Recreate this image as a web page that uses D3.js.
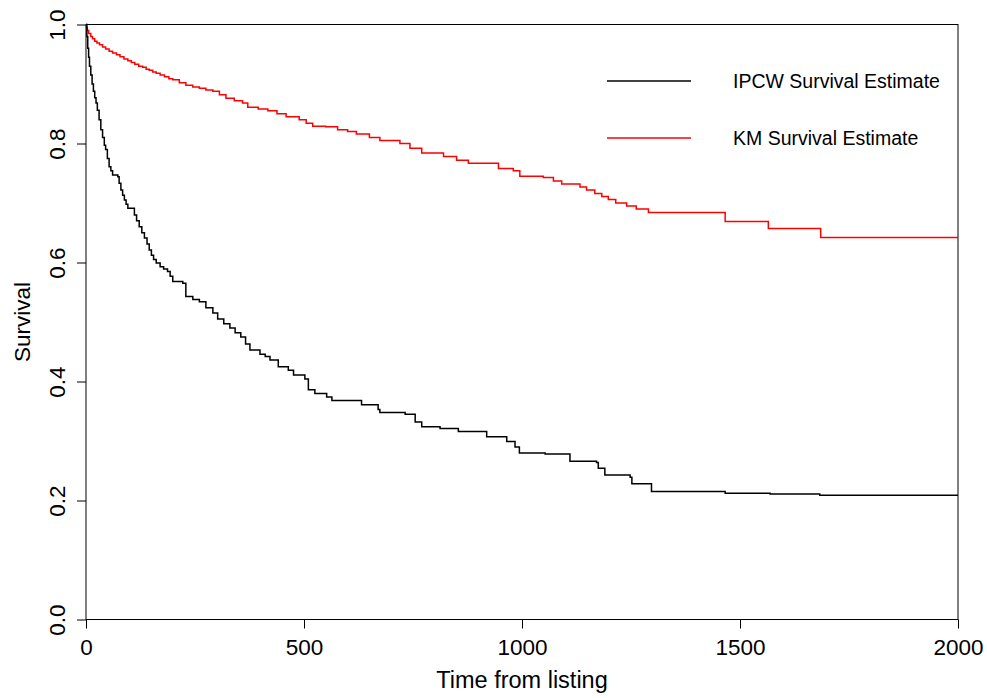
<!DOCTYPE html>
<html>
<head>
<meta charset="utf-8">
<script src="https://cdn.jsdelivr.net/npm/d3@7"></script>
<style>
  body { margin: 0; background: #fff; }
  text { font-family: "Liberation Sans", Arial, sans-serif; fill: #000; }
</style>
</head>
<body>
<div id="chart"></div>
<script>
// survival estimates (time in days, survival prob)
const ipcwTime = [0, 2, 4, 6, 8, 11, 14, 17, 20, 23, 26, 30, 34, 38, 42, 45, 49, 53, 57, 61, 73, 76, 80, 84, 88, 92, 96,
  111, 116, 122, 128, 134, 140, 145, 150, 155, 161, 170, 178, 187, 193, 199, 222, 229, 245, 260, 275, 291, 302,
  316, 330, 342, 355, 366, 376, 399, 411, 422, 441, 464, 476, 502, 510, 525, 552, 564, 632, 670, 674, 732, 755, 770, 812, 854, 919, 965,
  984, 994, 1053, 1110, 1171, 1175, 1190, 1248, 1252, 1297, 1466, 1569, 1683, 2000];
const ipcwSurv = [1.0, 0.98, 0.96, 0.945, 0.93, 0.915, 0.90, 0.888, 0.877, 0.868, 0.856, 0.84, 0.823, 0.81, 0.797, 0.79, 0.775, 0.761, 0.754, 0.747, 0.744, 0.733, 0.722, 0.713, 0.705, 0.698, 0.691,
  0.680, 0.670, 0.660, 0.650, 0.641, 0.631, 0.621, 0.612, 0.605, 0.599, 0.593, 0.589, 0.585, 0.577, 0.568, 0.565, 0.543, 0.538, 0.534, 0.524, 0.515, 0.505,
  0.497, 0.49, 0.482, 0.475, 0.463, 0.453, 0.446, 0.442, 0.436, 0.425, 0.419, 0.411, 0.404, 0.386, 0.380, 0.374, 0.368, 0.361, 0.353, 0.348, 0.345, 0.332, 0.324, 0.321, 0.316, 0.307, 0.299,
  0.290, 0.280, 0.278, 0.266, 0.264, 0.254, 0.243, 0.239, 0.228, 0.215, 0.212, 0.211, 0.209, 0.209];

const kmTime = [0, 1, 3, 6, 11, 15, 20, 25, 31, 38, 45, 53, 61, 70, 78, 87, 96, 104, 112, 121, 130, 138, 145, 153, 161, 170, 180, 190, 199,
  214, 229, 245, 260, 275, 291, 306, 321, 340, 359, 371, 395, 417, 438, 459, 489, 505, 520, 550, 577, 600,
  620, 650, 674, 720, 743, 770, 820, 850, 877, 946, 980, 995, 1049, 1072, 1091, 1133, 1148, 1167, 1183, 1198, 1215, 1240, 1262, 1290,
  1466, 1565, 1685, 2000];
const kmSurv = [1.0, 0.995, 0.99, 0.985, 0.980, 0.976, 0.972, 0.969, 0.966, 0.962, 0.959, 0.955, 0.952, 0.949, 0.946, 0.942, 0.939, 0.936, 0.933, 0.930, 0.928, 0.925, 0.923, 0.920, 0.918, 0.915, 0.912, 0.909, 0.907,
  0.902, 0.898, 0.895, 0.893, 0.890, 0.888, 0.882, 0.876, 0.872, 0.868, 0.861, 0.858, 0.855, 0.850, 0.845, 0.840, 0.834, 0.829, 0.828, 0.823, 0.820,
  0.816, 0.810, 0.805, 0.800, 0.792, 0.784, 0.778, 0.772, 0.767, 0.758, 0.754, 0.745, 0.743, 0.737, 0.732, 0.727, 0.722, 0.716, 0.711, 0.706, 0.700, 0.695, 0.690, 0.684,
  0.669, 0.657, 0.642, 0.642];

const xTicks = [0, 500, 1000, 1500, 2000];
const yTicks = [0, 0.2, 0.4, 0.6, 0.8, 1.0];

const legendNames = ["IPCW Survival Estimate", "KM Survival Estimate"];
const legendColors = ["black", "red"];

const W = 987, H = 698;
const margin = {top: 24.5, right: 29, bottom: 78.5, left: 86};

const svg = d3.select("#chart").append("svg")
  .attr("width", W).attr("height", H);

const x = d3.scaleLinear().domain([0, 2000]).range([margin.left, W - margin.right]);
const y = d3.scaleLinear().domain([0, 1]).range([H - margin.bottom, margin.top]);

// box
svg.append("rect")
  .attr("x", x(0)).attr("y", y(1))
  .attr("width", x(2000) - x(0)).attr("height", y(0) - y(1))
  .attr("fill", "none").attr("stroke", "black").attr("stroke-width", 1);

// x axis
const xAxis = svg.append("g")
  .attr("transform", `translate(0, ${y(0)})`)
  .call(d3.axisBottom(x).tickValues(xTicks).tickSize(9).tickSizeOuter(0).tickPadding(6).tickFormat(d3.format("d")));
xAxis.select(".domain").remove();
xAxis.selectAll("text").style("font-size", "22.5px").attr("dy", "0.9em");

// y axis
const yAxis = svg.append("g")
  .attr("transform", `translate(${x(0)}, 0)`)
  .call(d3.axisLeft(y).tickValues(yTicks).tickSize(9).tickSizeOuter(0).tickFormat(d3.format(".1f")));
yAxis.select(".domain").remove();
yAxis.selectAll("text")
  .attr("x", null).attr("dy", null)
  .attr("text-anchor", "middle")
  .attr("transform", "translate(-21, 0) rotate(-90)")
  .style("font-size", "22.5px");

// axis titles
svg.append("text")
  .attr("x", (x(0) + x(2000)) / 2).attr("y", 688)
  .attr("text-anchor", "middle")
  .style("font-size", "23.5px")
  .text("Time from listing");

svg.append("text")
  .attr("transform", `translate(30, ${(y(0) + y(1)) / 2}) rotate(-90)`)
  .attr("text-anchor", "middle")
  .style("font-size", "22.5px")
  .text("Survival");

// curves
const line = d3.line()
  .x(d => x(d[0]))
  .y(d => y(d[1]))
  .curve(d3.curveStepAfter);

svg.append("path")
  .datum(kmTime.map((t, i) => [t, kmSurv[i]]))
  .attr("d", line)
  .attr("fill", "none").attr("stroke", "red").attr("stroke-width", 1.5);

svg.append("path")
  .datum(ipcwTime.map((t, i) => [t, ipcwSurv[i]]))
  .attr("d", line)
  .attr("fill", "none").attr("stroke", "black").attr("stroke-width", 1.5);

// legend
const legend = svg.append("g");
legendNames.forEach((name, i) => {
  const ly = 81 + i * 57;
  legend.append("line")
    .attr("x1", 607).attr("x2", 691)
    .attr("y1", ly).attr("y2", ly)
    .attr("stroke", legendColors[i]).attr("stroke-width", 1.5);
  legend.append("text")
    .attr("x", 733).attr("y", ly)
    .attr("dy", "0.35em")
    .style("font-size", "19.5px")
    .text(name);
});
</script>
</body>
</html>
